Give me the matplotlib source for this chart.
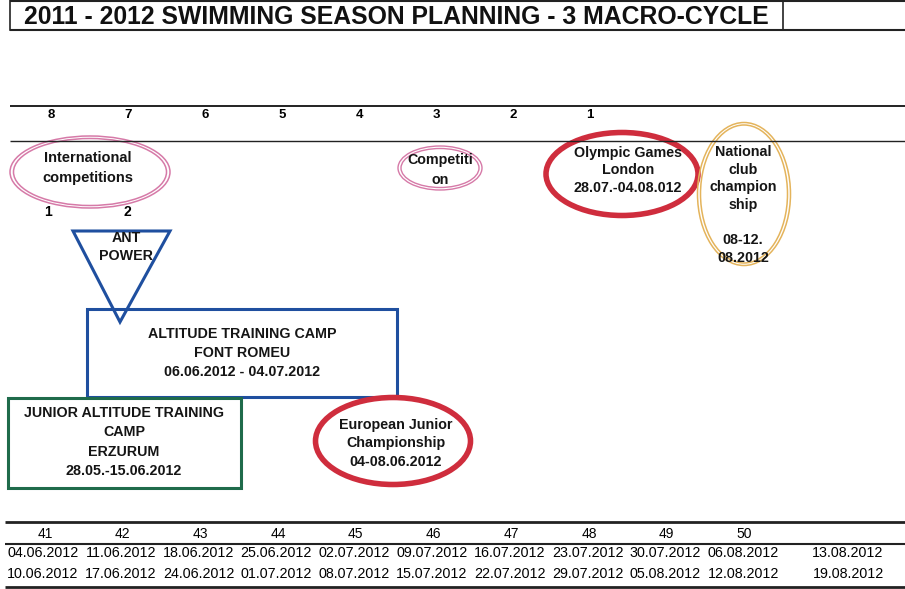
import matplotlib
matplotlib.use("Agg")
import matplotlib.pyplot as plt
from matplotlib.patches import Ellipse, Rectangle, Polygon

# ---- data ----
title = "2011 - 2012 SWIMMING SEASON PLANNING - 3 MACRO-CYCLE"
countdown = [8, 7, 6, 5, 4, 3, 2, 1]
weeks = [41, 42, 43, 44, 45, 46, 47, 48, 49, 50]
week_start = ["04.06.2012", "11.06.2012", "18.06.2012", "25.06.2012", "02.07.2012",
              "09.07.2012", "16.07.2012", "23.07.2012", "30.07.2012", "06.08.2012",
              "13.08.2012"]
week_end = ["10.06.2012", "17.06.2012", "24.06.2012", "01.07.2012", "08.07.2012",
            "15.07.2012", "22.07.2012", "29.07.2012", "05.08.2012", "12.08.2012",
            "19.08.2012"]

intl_label = ["International", "competitions"]
intl_marks = ["1", "2"]
comp_label = ["Competiti", "on"]
olympic_label = ["Olympic Games", "London", "28.07.-04.08.012"]
national_label = ["National", "club", "champion", "ship", "", "08-12.", "08.2012"]
ant_label = ["ANT", "POWER"]
altitude_label = ["ALTITUDE TRAINING CAMP", "FONT ROMEU", "06.06.2012 - 04.07.2012"]
junior_label = ["JUNIOR ALTITUDE TRAINING", "CAMP", "ERZURUM", "28.05.-15.06.2012"]
eurojr_label = ["European Junior", "Championship", "04-08.06.2012"]

PINK = "#d67aa8"
RED = "#cf2d3d"
ORANGE = "#e4b45c"
BLUE = "#1f4f9f"
GREEN = "#1f6b4b"
FONT = "Liberation Sans"

fig = plt.figure(figsize=(9.05, 5.89), dpi=100)
ax = fig.add_axes([0, 0, 1, 1])
ax.set_xlim(0, 905)
ax.set_ylim(589, 0)
ax.axis("off")


def block(x, y, lines, size=10.3, dy=19, weight="bold"):
    n = len(lines)
    for k, s in enumerate(lines):
        ax.text(x, y + (k - (n - 1) / 2) * dy, s, ha="center", va="center",
                fontsize=size, fontweight=weight, family=FONT, color="#151515")


def hline(y, x0, x1, lw):
    ax.plot([x0, x1], [y, y], color="#222222", lw=lw, solid_capstyle="butt")


# title box
hline(1, 10, 905, 1.5)
hline(30, 10, 905, 1.5)
ax.plot([10, 10], [0, 30], color="#222222", lw=1.2)
ax.plot([783, 783], [0, 30], color="#222222", lw=1.2)
ax.text(396, 17, title, ha="center", va="center", fontsize=17.8,
        fontweight="bold", family=FONT, color="#111111")

# countdown row
hline(106, 10, 905, 1.4)
hline(141, 10, 905, 1.0)
for i, c in enumerate(countdown):
    ax.text(51 + 77 * i, 115, str(c), ha="center", va="center", fontsize=9.5,
            fontweight="bold", family=FONT)

# international competitions (double pink ring)
for w, h in [(160, 72), (153, 67)]:
    ax.add_patch(Ellipse((90, 172), w, h, fill=False, ec=PINK, lw=1.1))
block(88, 168, intl_label, size=10.5, dy=20)
for i, s in enumerate(intl_marks):
    ax.text(48 + 79 * i, 212, s, ha="center", va="center", fontsize=10,
            fontweight="bold", family=FONT)

# competition
for w, h in [(84, 44), (78, 39)]:
    ax.add_patch(Ellipse((440, 168), w, h, fill=False, ec=PINK, lw=1.0))
block(440, 170, comp_label, size=10.3, dy=20)

# olympic games
ax.add_patch(Ellipse((622, 174), 152, 83, fill=False, ec=RED, lw=4))
block(628, 170, olympic_label, size=10.3, dy=17.5)

# national club championship (double orange ring)
for w, h in [(93, 143), (87, 138)]:
    ax.add_patch(Ellipse((744, 194), w, h, fill=False, ec=ORANGE, lw=1.1))
block(743, 205, national_label, size=10.3, dy=17.7)

# ANT power triangle
ax.add_patch(Polygon([(73, 231), (170, 231), (120, 322)], closed=True,
                     fill=False, ec=BLUE, lw=2.2))
block(126, 247, ant_label, size=10.3, dy=19)

# altitude training camp
ax.add_patch(Rectangle((87, 309), 310, 88, fill=False, ec=BLUE, lw=2.2))
block(242, 353, altitude_label, size=10.3, dy=19)

# junior altitude camp
ax.add_patch(Rectangle((8, 398), 233, 90, fill=False, ec=GREEN, lw=2.2))
block(124, 442, junior_label, size=10.3, dy=19.3)

# european junior championship
ax.add_patch(Ellipse((393, 441), 155, 87, fill=False, ec=RED, lw=4))
block(396, 443, eurojr_label, size=10.3, dy=18.5)

# bottom week table
hline(522, 5, 905, 2.0)
hline(544, 5, 905, 1.5)
hline(587, 5, 905, 2.0)
for i, w in enumerate(weeks):
    ax.text(45 + 77.7 * i, 534, str(w), ha="center", va="center",
            fontsize=10, family=FONT)
for i, (a, b) in enumerate(zip(week_start, week_end)):
    x = 43 + 77.8 * i if i < len(weeks) else 848
    ax.text(x, 553, a, ha="center", va="center", fontsize=10.3, family=FONT)
    ax.text(x, 574, b, ha="center", va="center", fontsize=10.3, family=FONT)

fig.savefig("out.png", dpi=100, facecolor="white")
